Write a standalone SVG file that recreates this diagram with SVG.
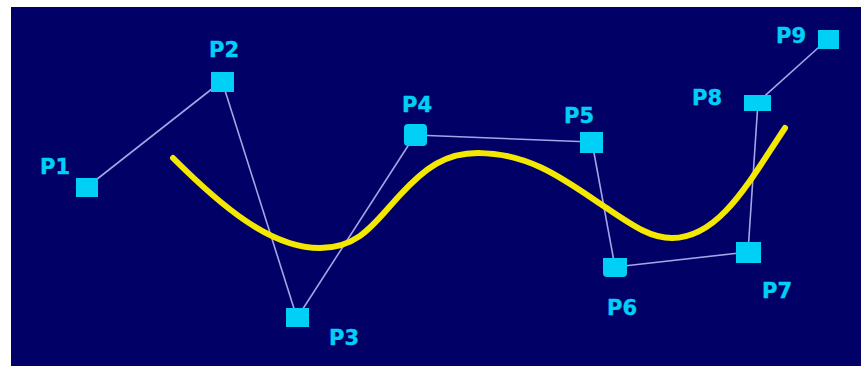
<svg xmlns="http://www.w3.org/2000/svg" width="861" height="366" viewBox="0 0 861 366">
<style>
.pt{fill:#00d0f5}
.lbl{font-family:"DejaVu Sans",Verdana,sans-serif;font-weight:bold;font-size:21px;fill:#00d0f5;stroke:#00d0f5;stroke-width:0.4}
.conn line{stroke:#a4a4e6;stroke-width:1.6}
</style>
<rect x="0" y="0" width="861" height="366" fill="#ffffff"/>
<rect x="11" y="7" width="850" height="359" fill="#000066"/>
<g id="connectors" class="conn">
<line x1="87" y1="187" x2="222" y2="81"/>
<line x1="222" y1="81" x2="297" y2="318"/>
<line x1="297" y1="318" x2="415" y2="135"/>
<line x1="415" y1="135" x2="592" y2="142"/>
<line x1="592" y1="142" x2="615" y2="267"/>
<line x1="615" y1="267" x2="748" y2="252"/>
<line x1="748" y1="252" x2="758" y2="102"/>
<line x1="758" y1="102" x2="828" y2="39"/>
</g>
<g id="curve">
<path d="M173,158 C220,205 270,248 320,248 C360,248 375,222 400,195 C425,168 445,153 478,153 C530,153 565,180 605,207 C632,225 650,238 672,238 C720,238 750,180 785,128" fill="none" stroke="#f5e800" stroke-width="6" stroke-linecap="round"/>
</g>
<g id="P1"><rect class="pt" x="76" y="178" width="22" height="19"/><text class="lbl" x="40" y="174">P1</text></g>
<g id="P2"><rect class="pt" x="211" y="72" width="23" height="20"/><text class="lbl" x="209" y="57">P2</text></g>
<g id="P3"><rect class="pt" x="286" y="308" width="23" height="19"/><text class="lbl" x="329" y="345">P3</text></g>
<g id="P4"><rect class="pt" x="404" y="124" width="23" height="22" rx="4"/><text class="lbl" x="402" y="112">P4</text></g>
<g id="P5"><rect class="pt" x="580" y="132" width="23" height="21"/><text class="lbl" x="564" y="123">P5</text></g>
<g id="P6"><path class="pt" d="M603,258 H627 V273 Q627,277 623,277 H607 Q603,277 603,273 Z"/><text class="lbl" x="607" y="315">P6</text></g>
<g id="P7"><rect class="pt" x="736" y="242" width="25" height="21"/><text class="lbl" x="762" y="298">P7</text></g>
<g id="P8"><rect class="pt" x="744" y="95" width="27" height="16"/><text class="lbl" x="692" y="105">P8</text></g>
<g id="P9"><rect class="pt" x="818" y="30" width="21" height="19"/><text class="lbl" x="776" y="43">P9</text></g>
</svg>
